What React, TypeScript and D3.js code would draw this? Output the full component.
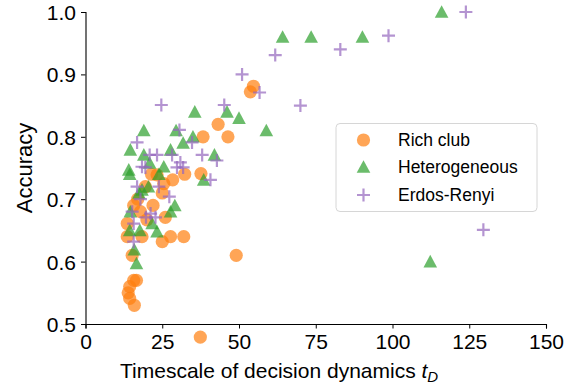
import React, { useEffect, useRef } from "react";
import * as d3 from "d3";

// Rich club (orange circles)
const richX = [54.7, 53.7, 43.2, 38.3, 46.4, 37.6, 32.3, 28.4, 25.0, 23.3, 25.5, 26.0, 27.7, 32.0, 25.0, 49.1, 13.6, 13.6, 15.7, 17.9, 18.4, 20.0, 22.0, 19.5, 15.2, 16.6, 15.7, 14.4, 13.9, 14.4, 15.9, 37.4, 21.5, 17.0];
const richY = [0.881, 0.872, 0.82, 0.8, 0.8, 0.741, 0.74, 0.731, 0.71, 0.739, 0.725, 0.671, 0.64, 0.64, 0.632, 0.61, 0.64, 0.661, 0.69, 0.68, 0.64, 0.667, 0.69, 0.72, 0.61, 0.57, 0.57, 0.56, 0.55, 0.541, 0.53, 0.479, 0.74, 0.7];

// Heterogeneous (green triangles)
const hetX = [116, 64.2, 73.5, 90.2, 112.3, 58.9, 35.6, 46.1, 50, 19, 29.5, 35, 31.8, 14.6, 27.7, 19, 42, 20.9, 25.5, 14.1, 23.9, 38.5, 14.4, 18.4, 17.4, 29.1, 27.7, 14.6, 21.7, 23.3, 14.4, 17.7, 15.9, 16.6, 20.5];
const hetY = [1.0, 0.96, 0.96, 0.96, 0.6, 0.81, 0.84, 0.84, 0.83, 0.81, 0.81, 0.8, 0.79, 0.779, 0.779, 0.771, 0.771, 0.758, 0.752, 0.747, 0.74, 0.731, 0.74, 0.715, 0.71, 0.69, 0.68, 0.68, 0.661, 0.648, 0.65, 0.65, 0.619, 0.597, 0.72];

// Erdos-Renyi (purple plus)
const erX = [123.9, 98.7, 83, 61.8, 70, 129.6, 51, 56.7, 24.7, 45.2, 30.6, 16.8, 34.7, 38, 20.9, 23.3, 28.2, 42.8, 30.9, 31.8, 18.4, 29.8, 40.7, 23.9, 27.3, 19.5, 16.8, 17.9, 21.2, 22.8, 19.7, 15.2, 15.7, 15.7];
const erY = [1.0, 0.962, 0.94, 0.931, 0.85, 0.651, 0.9, 0.871, 0.851, 0.851, 0.811, 0.791, 0.791, 0.771, 0.771, 0.771, 0.771, 0.762, 0.759, 0.751, 0.752, 0.751, 0.731, 0.72, 0.704, 0.751, 0.72, 0.7, 0.677, 0.671, 0.671, 0.68, 0.661, 0.632];

const xTicks = [0, 25, 50, 75, 100, 125, 150];
const yTicks = [0.5, 0.6, 0.7, 0.8, 0.9, 1.0];
const legendLabels = ["Rich club", "Heterogeneous", "Erdos-Renyi"];

const ORANGE = "#ff7f0e";
const GREEN = "#2ca02c";
const PURPLE = "#9467bd";
const FONT = "'Liberation Sans', Arial, Helvetica, sans-serif";

const triPath = "M0,-6.8L-6.8,5.8L6.8,5.8Z";
const plusPath = "M-6.5,0H6.5M0,-6.5V6.5";

const App: React.FC = () => {
  const svgRef = useRef<SVGSVGElement | null>(null);

  useEffect(() => {
    const width = 565;
    const height = 391;
    const marginLeft = 85.5;
    const marginRight = 19;
    const marginTop = 12;
    const marginBottom = 67;

    const svg = d3.select(svgRef.current);
    svg.selectAll("*").remove();
    svg.attr("viewBox", [0, 0, width, height]).attr("width", width).attr("height", height);

    const x = d3.scaleLinear().domain([0, 150]).range([marginLeft, width - marginRight]);
    const y = d3.scaleLinear().domain([0.5, 1.0]).range([height - marginBottom, marginTop]);

    // gx
    const gx = svg
      .append("g")
      .attr("transform", `translate(0,${height - marginBottom})`)
      .call(d3.axisBottom(x).tickValues(xTicks).tickSize(4.5).tickPadding(6).tickFormat(d3.format("d")));
    gx.select(".domain").attr("stroke", "#000").attr("stroke-width", 1.1);
    gx.selectAll("text").style("font-size", "21px").style("font-family", FONT).attr("fill", "#000");

    // gy
    const gy = svg
      .append("g")
      .attr("transform", `translate(${marginLeft},0)`)
      .call(d3.axisLeft(y).tickValues(yTicks).tickSize(4.5).tickPadding(5).tickFormat(d3.format(".1f")));
    gy.select(".domain").attr("stroke", "#000").attr("stroke-width", 1.1);
    gy.selectAll("text").style("font-size", "21px").style("font-family", FONT).attr("fill", "#000").attr("dy", "0.36em");

    // Rich club
    svg
      .append("g")
      .selectAll("circle")
      .data(richX)
      .join("circle")
      .attr("cx", (d) => x(d))
      .attr("cy", (_, i) => y(richY[i]))
      .attr("r", 6.6)
      .attr("fill", ORANGE)
      .attr("fill-opacity", 0.7);

    // Heterogeneous
    svg
      .append("g")
      .selectAll("path")
      .data(hetX)
      .join("path")
      .attr("transform", (d, i) => `translate(${x(d)},${y(hetY[i])})`)
      .attr("d", triPath)
      .attr("fill", GREEN)
      .attr("fill-opacity", 0.7);

    // Erdos-Renyi
    svg
      .append("g")
      .selectAll("path")
      .data(erX)
      .join("path")
      .attr("transform", (d, i) => `translate(${x(d)},${y(erY[i])})`)
      .attr("d", plusPath)
      .attr("fill", "none")
      .attr("stroke", PURPLE)
      .attr("stroke-opacity", 0.7)
      .attr("stroke-width", 2.2);

    // legend
    const lg = svg.append("g").attr("transform", "translate(336,123.5)");
    lg.append("rect")
      .attr("width", 201)
      .attr("height", 88)
      .attr("rx", 4)
      .attr("fill", "#fff")
      .attr("fill-opacity", 0.8)
      .attr("stroke", "#d6d6d6")
      .attr("stroke-width", 1);
    const rows = [16.5, 43.5, 71.5];
    lg.append("circle").attr("cx", 27.5).attr("cy", rows[0]).attr("r", 6.6).attr("fill", ORANGE).attr("fill-opacity", 0.7);
    lg.append("path").attr("transform", `translate(27.5,${rows[1]})`).attr("d", triPath).attr("fill", GREEN).attr("fill-opacity", 0.7);
    lg.append("path")
      .attr("transform", `translate(27.5,${rows[2]})`)
      .attr("d", plusPath)
      .attr("stroke", PURPLE)
      .attr("stroke-opacity", 0.7)
      .attr("stroke-width", 2.2);
    lg.selectAll("text.lab")
      .data(legendLabels)
      .join("text")
      .attr("class", "lab")
      .attr("x", 62)
      .attr("y", (_, i) => rows[i])
      .attr("dy", "0.36em")
      .style("font-size", "17.5px")
      .style("font-family", FONT)
      .text((d) => d);

    // axis labels
    svg
      .append("text")
      .attr("transform", `translate(32,${(marginTop + height - marginBottom) / 2}) rotate(-90)`)
      .attr("text-anchor", "middle")
      .style("font-size", "22px")
      .style("font-family", FONT)
      .text("Accuracy");

    const xl = svg
      .append("text")
      .attr("x", 120)
      .attr("y", 378)
      .style("font-size", "21px")
      .style("font-family", FONT);
    xl.append("tspan").text("Timescale of decision dynamics ");
    xl.append("tspan").attr("font-style", "italic").text("t");
    xl.append("tspan").attr("font-style", "italic").attr("font-size", "15px").attr("dy", 4).text("D");
  }, []);

  return (
    <div style={{ position: "absolute", left: 0, top: 0 }}>
      <svg ref={svgRef}></svg>
    </div>
  );
};

export default App;
